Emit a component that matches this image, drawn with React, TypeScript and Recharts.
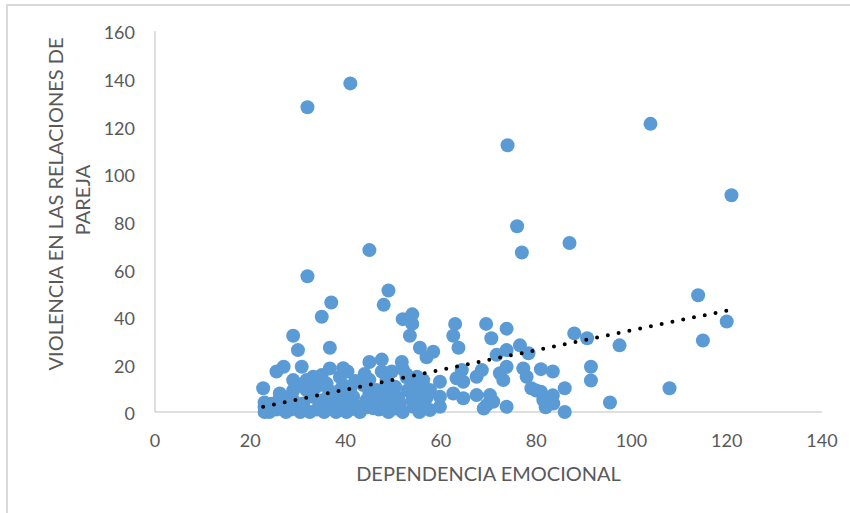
import { ScatterChart, Scatter, XAxis, YAxis, Label } from "recharts";

const xTicks = [0, 20, 40, 60, 80, 100, 120, 140];
const yTicks = [0, 20, 40, 60, 80, 100, 120, 140, 160];

// [dependencia emocional, violencia en las relaciones de pareja]
const puntosAltos: [number, number][] = [
  [32, 128], [41, 138], [104, 121], [74, 112], [121, 91], [76, 78], [87, 71],
  [77, 67], [45, 68], [32, 57], [114, 49], [49, 51], [37, 46], [48, 45],
  [35, 40], [54, 41], [52, 39], [54, 37], [53.5, 32], [29, 32], [30, 26],
  [36.7, 27], [55.6, 27], [58.4, 25.3], [57, 23], [45, 21], [47.6, 22],
  [51.8, 21], [63, 37], [62.6, 32], [63.7, 27], [69.5, 37], [70.6, 31],
  [73.8, 35], [71.7, 24], [73.8, 26], [76.6, 28], [78.4, 24.7], [88, 33],
  [90.7, 31], [97.5, 28], [115, 30], [120, 38], [108, 10], [95.5, 4],
];

const puntosMedios: [number, number][] = [
  [27, 19], [25.5, 17], [30.8, 19], [29, 13.4], [22.7, 10], [31.8, 13.4],
  [33.2, 14.8], [35, 15.5], [36.7, 18.3], [39.5, 18.4], [40.4, 17], [38.8, 14.7],
  [39.5, 11.3], [43.7, 11.3], [44, 16], [48.6, 13.4], [47.6, 17], [49.7, 17],
  [52.8, 15.8], [52.8, 14.6], [55, 14.8], [56.3, 13.4], [59.8, 12.7], [52, 18],
  [64.4, 17.6], [63.3, 14.2], [64.7, 12.7], [67.5, 14.8], [68.6, 17.6],
  [73.8, 19], [72.4, 16.3], [73.1, 13.4], [77.3, 18.3], [78, 14.8], [81, 18],
  [83.5, 17], [91.5, 19], [91.5, 13.2], [79, 10], [80, 9], [86, 10],
];

const puntosBajos: [number, number][] = [
  [23, 0], [23, 2], [23, 4], [24, 0], [24.5, 3.5], [25.5, 1], [26, 5], [26.2, 7.8],
  [27, 2.2], [27.5, 0], [28, 6], [28.5, 1], [29, 5], [29, 9], [30, 11], [30, 2],
  [30.5, 0], [31.1, 3.6], [31.8, 9.2], [32, 12], [32.5, 0], [33.2, 6.4], [33.9, 10.6],
  [34, 1], [34.5, 4], [35.3, 5], [35.5, 0], [36, 12], [36.5, 9], [36.7, 2],
  [37.4, 6.4], [38, 0], [38.8, 9.2], [38.8, 3.6], [39.5, 6], [40.2, 0], [40, 4],
  [41, 1], [41.6, 6.4], [42, 3], [42, 13], [41, 10], [43, 0], [44.4, 5], [44.5, 2],
  [45, 8], [45, 13.5], [45.8, 1.6], [46, 4], [46.5, 9.2], [47, 1], [47.5, 6],
  [47.9, 3.6], [48.5, 11], [49, 0], [49.5, 8], [50, 4], [50.4, 10.6], [50.5, 1.5],
  [51, 6], [51.4, 3.6], [52, 0], [53, 9], [54.2, 2.2], [54, 5], [54, 12],
  [55.5, 8.5], [55.5, 0], [56, 3], [56.5, 10], [57, 6], [57.7, 0.8], [57.7, 9.2],
  [59.8, 6.4], [59.8, 2.2], [62.6, 7.8], [64.7, 5.8], [67.5, 7.1], [70.3, 7.1],
  [69.6, 2.9], [71, 4.3], [69, 1.5], [73.8, 2.2], [81, 8.5], [81.5, 5], [82, 2],
  [83.5, 7], [83.6, 3.6], [86, 0],
];

const tendenciaX = [22.7, 120.5];
const tendenciaY = [2.2, 42.8];

const datos = [...puntosAltos, ...puntosMedios, ...puntosBajos].map(([x, y]) => ({ x, y }));
const tendencia = tendenciaX.map((x, i) => ({ x, y: tendenciaY[i] }));

const FUENTE = "Lato, 'Open Sans', sans-serif";
const GRIS = "#595959";

const Punto = (props: any) => {
  const { cx, cy } = props;
  return <circle cx={cx} cy={cy} r={7} fill="#5B9BD5" />;
};

const TituloY = () => (
  <g fill={GRIS} fontSize={20} fontFamily={FUENTE}>
    <text transform="translate(55,204) rotate(-90)" textAnchor="middle" dominantBaseline="central">
      VIOLENCIA EN LAS RELACIONES DE
    </text>
    <text transform="translate(82,200) rotate(-90)" textAnchor="middle" dominantBaseline="central">
      PAREJA
    </text>
  </g>
);

export default function App() {
  return (
    <div style={{ position: "absolute", left: 0, top: 0, width: 850, height: 513, background: "#fff", overflow: "hidden" }}>
      <div
        style={{
          position: "absolute",
          left: 6,
          top: 4,
          width: 900,
          height: 600,
          border: "2px solid #D9D9D9",
        }}
      />
      <ScatterChart width={850} height={513} margin={{ top: 31, right: 28, bottom: 0, left: 0 }}>
        <XAxis
          type="number"
          dataKey="x"
          domain={[0, 140]}
          ticks={xTicks}
          height={101}
          axisLine={{ stroke: "#BFBFBF" }}
          tickLine={false}
          tickSize={0}
          tickMargin={22}
          tick={{ fill: GRIS, fontSize: 18, fontFamily: FUENTE }}
        >
          <Label
            value="DEPENDENCIA EMOCIONAL"
            position="insideBottom"
            offset={32}
            fill={GRIS}
            fontSize={20}
            fontFamily={FUENTE}
          />
        </XAxis>
        <YAxis
          type="number"
          dataKey="y"
          domain={[0, 160]}
          ticks={yTicks}
          width={155}
          axisLine={{ stroke: "#BFBFBF" }}
          tickLine={false}
          tickSize={0}
          tickMargin={20}
          tick={{ fill: GRIS, fontSize: 18, fontFamily: FUENTE, dy: 2 }}
        >
          <Label content={<TituloY />} />
        </YAxis>
        <Scatter data={datos} shape={<Punto />} isAnimationActive={false} />
        <Scatter
          data={tendencia}
          shape={() => <g />}
          line={{ stroke: "#000", strokeWidth: 4, strokeDasharray: "0 11", strokeLinecap: "round" }}
          isAnimationActive={false}
        />
      </ScatterChart>
    </div>
  );
}
